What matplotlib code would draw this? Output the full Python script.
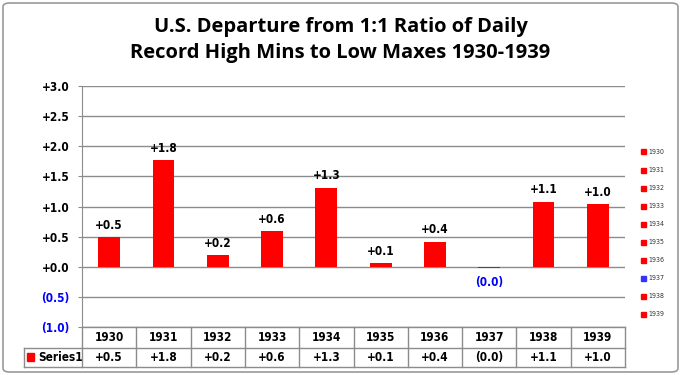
import matplotlib
matplotlib.use("Agg")
import matplotlib.pyplot as plt
from matplotlib.patches import FancyBboxPatch, Rectangle
from matplotlib.lines import Line2D

years = ["1930", "1931", "1932", "1933", "1934", "1935", "1936", "1937", "1938", "1939"]
values = [0.49, 1.77, 0.19, 0.59, 1.31, 0.06, 0.41, -0.02, 1.08, 1.04]
bar_colors = ["#ff0000"] * 7 + ["#3333ff"] + ["#ff0000"] * 2
yticks = [-1.0, -0.5, 0.0, 0.5, 1.0, 1.5, 2.0, 2.5, 3.0]
series_name = "Series1"
title = "U.S. Departure from 1:1 Ratio of Daily\nRecord High Mins to Low Maxes 1930-1939"

FONT = dict(family="DejaVu Sans", fontstretch="condensed", fontweight="bold")
FS = 8.5


def fmt(v):
    if v < 0:
        return "({:.1f})".format(abs(v))
    return "+{:.1f}".format(v)


W, H = 681, 375
fig = plt.figure(figsize=(W / 100, H / 100), dpi=100)

# outer border
fig.patches.append(FancyBboxPatch((3 / W, 3 / H), 1 - 6 / W, 1 - 6 / H,
                                  boxstyle="round,pad=0,rounding_size=0.01",
                                  transform=fig.transFigure, fill=False,
                                  edgecolor="#9a9a9a", linewidth=1.2))

x0, x1 = 82, 625
ytop, ybot = 86, 327
ax = fig.add_axes([x0 / W, 1 - ybot / H, (x1 - x0) / W, (ybot - ytop) / H])
n = len(years)
xs = list(range(n))
ax.bar(xs, values, width=0.4, color=bar_colors, zorder=3)
ax.set_xlim(-0.5, n - 0.5)
ax.set_ylim(-1.0, 3.0)
ax.set_yticks(yticks)
ax.set_yticklabels([fmt(t) for t in yticks], fontsize=FS, **FONT)
for lab, t in zip(ax.get_yticklabels(), yticks):
    lab.set_color("#0000ff" if t < 0 else "black")
ax.yaxis.grid(True, color="#8c8c8c", linewidth=1.0)
ax.set_axisbelow(True)
ax.set_xticks([])
for s in ["top", "right", "bottom"]:
    ax.spines[s].set_visible(False)
ax.spines["left"].set_color("#8c8c8c")
ax.tick_params(axis="y", length=3, color="#8c8c8c", pad=6)

for x, v in zip(xs, values):
    if v >= 0:
        ax.annotate(fmt(v), (x, v), xytext=(0, 4), textcoords="offset points",
                    ha="center", va="bottom", fontsize=FS, color="black", **FONT)
    else:
        ax.annotate(fmt(v), (x, v), xytext=(0, -6), textcoords="offset points",
                    ha="center", va="top", fontsize=FS, color="#0000ff", **FONT)

fig.text(0.5, 1 - 40 / H, title, ha="center", va="center", fontsize=14.5,
         fontweight="bold", family="Open Sans", linespacing=1.45)

# data table
grid_c = "#8c8c8c"
lw = 1.0
row1, row2, row3 = 327, 348, 367
tl = 24
colw = (x1 - x0) / n


def fx(px):
    return px / W


def fy(py):
    return 1 - py / H


lines = [
    ((x0, x1), (row1, row1)),
    ((tl, x1), (row2, row2)),
    ((tl, x1), (row3, row3)),
    ((tl, tl), (row2, row3)),
    ((x1, x1), (row1, row3)),
]
for i in range(n):
    xx = x0 + i * colw
    lines.append(((xx, xx), (row1, row3)))
for (xa, xb), (ya, yb) in lines:
    fig.add_artist(Line2D([fx(xa), fx(xb)], [fy(ya), fy(yb)],
                          transform=fig.transFigure, color=grid_c, linewidth=lw))

for i, (yr, v) in enumerate(zip(years, values)):
    cx = x0 + (i + 0.5) * colw
    fig.text(fx(cx), fy((row1 + row2) / 2), yr, ha="center", va="center",
             fontsize=FS, **FONT)
    fig.text(fx(cx), fy((row2 + row3) / 2), fmt(v), ha="center", va="center",
             fontsize=FS, **FONT)

fig.patches.append(Rectangle((fx(27), fy(361)), 7 / W, 8 / H,
                             transform=fig.transFigure, color="#ff0000"))
fig.text(fx(38), fy((row2 + row3) / 2), series_name, ha="left", va="center",
         fontsize=FS, **FONT)

# legend
for i, (yr, c) in enumerate(zip(years, bar_colors)):
    yy = 152 + i * 18
    fig.patches.append(Rectangle((fx(641), fy(yy + 2.5)), 5 / W, 5 / H,
                                 transform=fig.transFigure, color=c))
    fig.text(fx(648), fy(yy), yr, ha="left", va="center", fontsize=5,
             color="#333333", family="DejaVu Sans", fontstretch="condensed")

fig.savefig("out.png", dpi=100)
